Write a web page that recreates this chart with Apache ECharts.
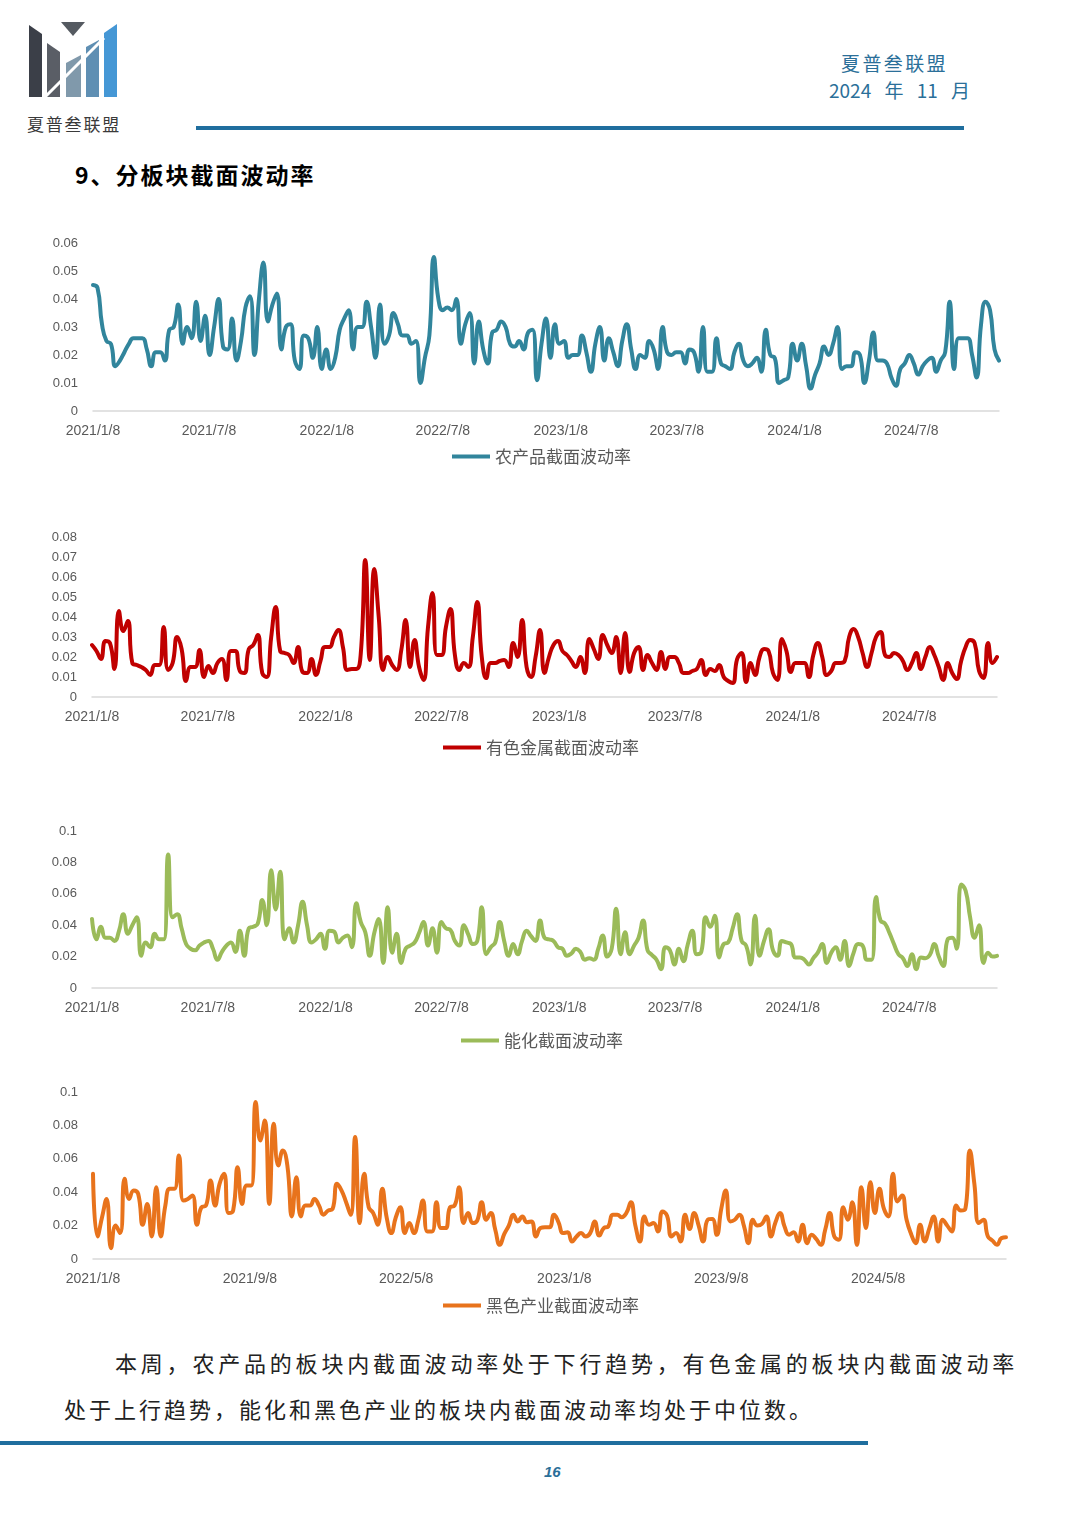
<!DOCTYPE html>
<html>
<head>
<meta charset="utf-8">
<script src="https://cdn.jsdelivr.net/npm/echarts@6/dist/echarts.min.js"></script>
<style>
  html, body { margin: 0; padding: 0; background: #fff; }
  body { width: 1080px; height: 1528px; position: relative; overflow: hidden;
         font-family: "Noto Sans CJK SC", "Noto Sans", sans-serif; }
  #chart { position: absolute; left: 0; top: 0; width: 1080px; height: 1528px; }
  .t { position: absolute; white-space: nowrap; pointer-events: none; }
  .bar { position: absolute; }
</style>
</head>
<body>
<svg class="t" style="left:0;top:0" width="140" height="110" viewBox="0 0 140 110">
  <polygon points="29,25 42,34 42,97 29,97" fill="#3b3f48"/>
  <polygon points="61,22 85,22 73,36" fill="#555a61"/>
  <polygon points="47,43 60,52 60,97 47,97" fill="#5a5e66"/>
  <polygon points="66,63 81,55 81,97 66,97" fill="#8099ab"/>
  <polygon points="86,47 99,40 99,97 86,97" fill="#5f8fb3"/>
  <polygon points="104,33 117,24 117,97 104,97" fill="#4597d5"/>
  <line x1="42" y1="100" x2="104" y2="38" stroke="#fff" stroke-width="3"/>
</svg>
<div class="t" style="left:27px;top:114px;font-size:17px;line-height:20px;letter-spacing:1.8px;color:#3a3a3a;">夏普叁联盟</div>
<div class="t" style="left:841px;top:52px;font-size:19px;line-height:22px;letter-spacing:2.4px;color:#2B6F99;">夏普叁联盟</div>
<div class="t" style="left:829px;top:79px;font-size:19px;line-height:22px;word-spacing:9px;color:#2B6F99;">2024 年 11 月</div>
<div class="bar" style="left:196px;top:126px;width:768px;height:4px;background:#1F6E9E;"></div>
<div class="t" style="left:75px;top:161px;font-size:23px;line-height:26px;letter-spacing:2px;font-weight:bold;color:#000;">9、分板块截面波动率</div>
<div class="t" style="left:115px;top:1349px;font-size:22px;line-height:26px;letter-spacing:3.8px;color:#222;">本周，农产品的板块内截面波动率处于下行趋势，有色金属的板块内截面波动率</div>
<div class="t" style="left:64px;top:1395px;font-size:22px;line-height:26px;letter-spacing:3px;color:#222;">处于上行趋势，能化和黑色产业的板块内截面波动率均处于中位数。</div>
<div class="bar" style="left:0px;top:1441px;width:868px;height:4px;background:#1F6E9E;"></div>
<div class="t" style="left:544px;top:1463px;font-size:15px;line-height:18px;font-weight:bold;font-style:italic;color:#2B6F99;font-family:'Liberation Sans',sans-serif;">16</div>
<div id="chart"></div>
<script>
// ---- data ----
const START_DATE = '2021/1/8';      // first weekly observation (Friday)
const WEEK_COUNT = 203;             // weekly observations through 2024/11/22

const agriVol = [
0.045,0.044,0.031,0.025,0.024,0.016,0.018,0.021,0.024,0.026,
0.026,0.026,0.022,0.016,0.021,0.021,0.018,0.029,0.030,0.038,
0.024,0.030,0.026,0.039,0.025,0.034,0.020,0.030,0.040,0.023,
0.022,0.033,0.018,0.025,0.037,0.041,0.020,0.040,0.053,0.032,
0.038,0.042,0.022,0.030,0.031,0.018,0.015,0.027,0.026,0.019,
0.030,0.015,0.022,0.015,0.019,0.029,0.033,0.036,0.022,0.030,
0.030,0.039,0.030,0.019,0.038,0.024,0.027,0.035,0.031,0.027,
0.027,0.024,0.025,0.010,0.019,0.027,0.055,0.040,0.036,0.037,
0.036,0.040,0.024,0.031,0.035,0.017,0.032,0.022,0.017,0.028,
0.029,0.032,0.030,0.024,0.023,0.025,0.022,0.028,0.029,0.011,
0.024,0.033,0.019,0.031,0.024,0.025,0.019,0.020,0.020,0.027,
0.021,0.014,0.024,0.030,0.018,0.026,0.021,0.016,0.025,0.031,
0.022,0.015,0.020,0.019,0.025,0.022,0.015,0.030,0.021,0.020,
0.021,0.021,0.017,0.022,0.021,0.014,0.030,0.014,0.014,0.026,
0.017,0.016,0.015,0.021,0.024,0.018,0.016,0.017,0.019,0.014,
0.029,0.020,0.019,0.010,0.011,0.012,0.024,0.018,0.024,0.016,
0.008,0.013,0.017,0.023,0.020,0.024,0.030,0.015,0.016,0.016,
0.021,0.020,0.010,0.018,0.028,0.018,0.018,0.017,0.012,0.009,
0.015,0.017,0.020,0.017,0.013,0.016,0.018,0.019,0.014,0.018,
0.021,0.039,0.015,0.026,0.026,0.026,0.020,0.012,0.031,0.039,
0.036,0.022,0.018
];

const metalVol = [
0.026,0.023,0.019,0.028,0.027,0.014,0.043,0.033,0.038,0.017,
0.016,0.015,0.0135,0.011,0.016,0.016,0.035,0.0135,0.017,0.030,
0.024,0.008,0.015,0.015,0.0235,0.010,0.0155,0.012,0.017,0.019,
0.0085,0.023,0.023,0.013,0.012,0.024,0.026,0.031,0.012,0.010,
0.030,0.045,0.023,0.022,0.021,0.017,0.025,0.0125,0.012,0.019,
0.011,0.018,0.025,0.025,0.030,0.0335,0.025,0.0135,0.014,0.014,
0.022,0.0685,0.0185,0.064,0.040,0.0135,0.020,0.016,0.0135,0.023,
0.0385,0.015,0.0285,0.015,0.0085,0.035,0.052,0.021,0.021,0.035,
0.044,0.021,0.0135,0.017,0.015,0.030,0.0475,0.020,0.0095,0.017,
0.017,0.018,0.0185,0.015,0.027,0.020,0.0385,0.015,0.010,0.020,
0.0335,0.012,0.020,0.026,0.028,0.023,0.021,0.018,0.015,0.020,
0.012,0.029,0.024,0.019,0.031,0.026,0.022,0.030,0.012,0.032,
0.0125,0.022,0.025,0.0135,0.021,0.017,0.0135,0.0225,0.014,0.020,
0.020,0.017,0.012,0.012,0.013,0.014,0.0185,0.011,0.014,0.013,
0.016,0.010,0.008,0.007,0.019,0.022,0.0075,0.017,0.011,0.020,
0.024,0.023,0.012,0.0085,0.029,0.023,0.0125,0.017,0.017,0.017,
0.010,0.021,0.027,0.020,0.011,0.013,0.017,0.017,0.018,0.030,
0.034,0.030,0.022,0.015,0.022,0.030,0.0325,0.021,0.020,0.022,
0.021,0.018,0.0135,0.017,0.022,0.014,0.020,0.025,0.021,0.015,
0.0085,0.017,0.012,0.009,0.018,0.025,0.0285,0.027,0.013,0.0095,
0.027,0.017,0.020
];

const energyVol = [
0.044,0.031,0.039,0.032,0.032,0.030,0.036,0.047,0.0345,0.040,
0.045,0.0205,0.029,0.026,0.0345,0.031,0.031,0.085,0.045,0.047,
0.038,0.028,0.025,0.024,0.027,0.029,0.030,0.025,0.018,0.023,
0.027,0.029,0.023,0.0365,0.0205,0.038,0.039,0.041,0.056,0.040,
0.075,0.050,0.074,0.031,0.038,0.029,0.040,0.055,0.040,0.029,
0.031,0.0345,0.025,0.0365,0.036,0.029,0.032,0.0335,0.026,0.054,
0.042,0.0355,0.0205,0.035,0.044,0.016,0.0515,0.0225,0.0345,0.016,
0.025,0.027,0.029,0.035,0.042,0.027,0.038,0.0225,0.042,0.038,
0.037,0.030,0.027,0.040,0.034,0.028,0.030,0.0515,0.0215,0.026,
0.029,0.042,0.030,0.0205,0.028,0.0215,0.030,0.0365,0.033,0.030,
0.043,0.032,0.031,0.030,0.026,0.025,0.0205,0.022,0.025,0.023,
0.018,0.019,0.018,0.025,0.0335,0.020,0.025,0.0505,0.0215,0.0355,
0.0215,0.027,0.032,0.043,0.024,0.021,0.018,0.012,0.026,0.024,
0.015,0.025,0.017,0.028,0.0365,0.0215,0.023,0.045,0.039,0.046,
0.0195,0.028,0.029,0.038,0.047,0.030,0.027,0.015,0.046,0.0205,
0.030,0.0375,0.024,0.0205,0.030,0.029,0.028,0.0195,0.0195,0.018,
0.015,0.019,0.0225,0.028,0.016,0.0225,0.026,0.018,0.030,0.014,
0.0225,0.028,0.027,0.018,0.018,0.058,0.043,0.041,0.035,0.028,
0.0215,0.019,0.014,0.0215,0.012,0.0195,0.019,0.021,0.028,0.020,
0.014,0.031,0.032,0.025,0.066,0.062,0.045,0.032,0.040,0.016,
0.0225,0.020,0.0205
];

const ferrousVol = [
0.051,0.0135,0.025,0.036,0.0065,0.020,0.0155,0.048,0.036,0.041,
0.039,0.0205,0.033,0.0135,0.043,0.0135,0.032,0.042,0.042,0.062,
0.035,0.036,0.038,0.0205,0.031,0.032,0.047,0.032,0.045,0.051,
0.0275,0.029,0.055,0.033,0.044,0.044,0.094,0.071,0.083,0.033,
0.081,0.056,0.065,0.056,0.0255,0.049,0.0255,0.032,0.032,0.036,
0.032,0.0265,0.029,0.030,0.045,0.041,0.034,0.0265,0.073,0.0215,
0.051,0.031,0.0275,0.0205,0.042,0.0245,0.0155,0.025,0.031,0.0155,
0.0215,0.0155,0.0235,0.035,0.0165,0.0165,0.034,0.0185,0.0185,0.031,
0.032,0.043,0.0215,0.0275,0.0215,0.023,0.034,0.0235,0.0275,0.0175,
0.0085,0.015,0.020,0.0265,0.0225,0.0255,0.022,0.0225,0.0135,0.0185,
0.019,0.019,0.0265,0.022,0.0155,0.016,0.0105,0.0135,0.0155,0.0135,
0.0155,0.0225,0.014,0.0185,0.0195,0.0265,0.0265,0.025,0.0275,0.034,
0.020,0.0105,0.0255,0.0205,0.0215,0.0165,0.0285,0.026,0.0135,0.0155,
0.0105,0.0265,0.018,0.0275,0.020,0.0105,0.0235,0.024,0.0145,0.030,
0.041,0.0225,0.0235,0.0265,0.020,0.0095,0.0235,0.020,0.021,0.0255,
0.0135,0.022,0.0275,0.0195,0.0145,0.016,0.0105,0.0205,0.0095,0.0145,
0.012,0.0085,0.0175,0.0275,0.0135,0.0115,0.031,0.0235,0.034,0.0085,
0.043,0.0185,0.046,0.0275,0.042,0.030,0.0255,0.051,0.0345,0.038,
0.0235,0.015,0.0095,0.0205,0.0105,0.018,0.0255,0.0105,0.0235,0.020,
0.0165,0.032,0.029,0.030,0.065,0.045,0.0215,0.0235,0.0135,0.011,
0.0085,0.0125,0.013
];

const halfYearTicks = ['2021/1/8','2021/7/8','2022/1/8','2022/7/8','2023/1/8','2023/7/8','2024/1/8','2024/7/8'];
const eightMonthTicks = ['2021/1/8','2021/9/8','2022/5/8','2023/1/8','2023/9/8','2024/5/8'];

const seriesNames = ['农产品截面波动率','有色金属截面波动率','能化截面波动率','黑色产业截面波动率'];
const seriesColors = ['#31859C','#C00000','#9BBB59','#E8731C'];

// ---- helpers ----
function parseD(s){ const p = s.split('/').map(Number); return new Date(p[0], p[1]-1, p[2], 12).getTime(); }
function fmtD(v){ const d = new Date(v); return d.getFullYear() + '/' + (d.getMonth()+1) + '/' + d.getDate(); }
const t0 = parseD(START_DATE);
const weekDates = [];
for (let i = 0; i < WEEK_COUNT; i++) { const d = new Date(t0); d.setDate(d.getDate() + 7*i); weekDates.push(d.getTime()); }
const tEnd = weekDates[weekDates.length-1];

const values = [agriVol, metalVol, energyVol, ferrousVol];
const grids = [
  {left: 93, top: 243, width: 906, height: 168},
  {left: 92, top: 537, width: 905, height: 160},
  {left: 92, top: 831, width: 905, height: 157},
  {left: 93, top: 1092, width: 913, height: 167}
];
const yMax = [0.06, 0.08, 0.1, 0.1];
const yInt = [0.01, 0.01, 0.02, 0.02];
const tickSets = [halfYearTicks, halfYearTicks, halfYearTicks, eightMonthTicks];
const legendPos = [{left: 452, top: 448}, {left: 443, top: 739}, {left: 461, top: 1032}, {left: 443, top: 1297}];

const FONT = "'Liberation Sans', Arial, sans-serif";
const option = {
  animation: false,
  backgroundColor: 'transparent',
  grid: grids.map(g => Object.assign({containLabel: false}, g)),
  xAxis: grids.map((g, k) => ({
    type: 'value', gridIndex: k, min: t0, max: tEnd, scale: true,
    axisLine: {show: true, onZero: false, lineStyle: {color: '#D9D9D9', width: 1.5}},
    axisTick: {show: false},
    splitLine: {show: false},
    axisLabel: {
      customValues: tickSets[k].map(parseD),
      formatter: v => fmtD(v),
      color: '#595959', fontSize: 14, margin: 13, fontFamily: FONT,
      showMinLabel: true, showMaxLabel: true, hideOverlap: false
    }
  })),
  yAxis: grids.map((g, k) => ({
    type: 'value', gridIndex: k, min: 0, max: yMax[k], interval: yInt[k],
    axisLine: {show: false}, axisTick: {show: false}, splitLine: {show: false},
    axisLabel: {color: '#595959', fontSize: 13, margin: 15, fontFamily: FONT}
  })),
  legend: seriesNames.map((n, k) => ({
    data: [n], left: legendPos[k].left, top: legendPos[k].top, padding: 0,
    icon: 'rect', itemWidth: 38, itemHeight: 4,
    textStyle: {fontSize: 17, color: '#595959', fontFamily: "'Noto Sans CJK SC', sans-serif"}
  })),
  series: seriesNames.map((n, k) => ({
    name: n, type: 'line', xAxisIndex: k, yAxisIndex: k,
    data: values[k].map((v, i) => [weekDates[i], v]),
    smooth: 0.5, showSymbol: false, symbol: 'none',
    lineStyle: {width: 4, color: seriesColors[k], join: 'round', cap: 'round'},
    itemStyle: {color: seriesColors[k]}
  }))
};
const chart = echarts.init(document.getElementById('chart'), null, {renderer: 'canvas'});
chart.setOption(option);
</script>
</body>
</html>
